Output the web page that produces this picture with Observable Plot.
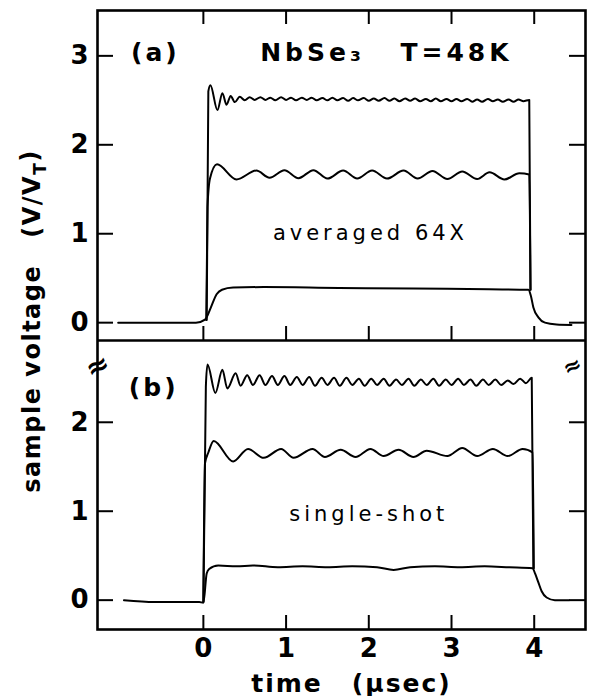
<!DOCTYPE html>
<html><head><meta charset="utf-8">
<script src="https://cdn.jsdelivr.net/npm/d3@7"></script>
<script src="https://cdn.jsdelivr.net/npm/@observablehq/plot@0.6"></script>
<style>body{margin:0;background:#fff}</style>
</head><body><div id="chart"></div>
<script>
// ---- tick values ----
const xTicks = [0, 1, 2, 3, 4];
const yTicksA = [0, 1, 2, 3];
const yTicksB = [0, 1, 2];

// ---- panel (a): averaged 64X  [time µs, V/VT] ----
const aTop = [[0.04,0.03],[0.06,2.60],[0.085,2.67],[0.17,2.39],[0.23,2.58],[0.28,2.45],[0.33,2.55],[0.38,2.48],[0.44,2.54],[0.50,2.50],
[0.56,2.535],[0.62,2.505],[0.69,2.535],[0.75,2.505],[0.81,2.53],[0.87,2.50],[0.94,2.535],[1.00,2.505],[1.06,2.53],[1.12,2.50],
[1.19,2.53],[1.25,2.505],[1.31,2.53],[1.37,2.50],[1.44,2.525],[1.50,2.50],[1.56,2.53],[1.62,2.50],[1.69,2.525],[1.75,2.495],
[1.81,2.525],[1.87,2.50],[1.94,2.525],[2.00,2.495],[2.06,2.52],[2.12,2.495],[2.19,2.525],[2.25,2.495],[2.31,2.52],[2.37,2.49],
[2.44,2.52],[2.50,2.495],[2.56,2.52],[2.62,2.49],[2.69,2.515],[2.75,2.49],[2.81,2.52],[2.87,2.49],[2.94,2.515],[3.00,2.49],
[3.06,2.515],[3.12,2.49],[3.19,2.515],[3.25,2.485],[3.31,2.51],[3.37,2.485],[3.44,2.515],[3.50,2.49],[3.56,2.51],[3.62,2.485],
[3.69,2.51],[3.75,2.485],[3.81,2.51],[3.87,2.49],[3.94,2.505],[3.955,0.37]];
const aMid = [[0.035,0.03],[0.05,1.30],[0.08,1.62],[0.165,1.78],[0.40,1.61],[0.64,1.71],[0.80,1.63],[0.98,1.715],[1.15,1.625],[1.33,1.715],
[1.50,1.62],[1.69,1.71],[1.86,1.62],[2.04,1.71],[2.22,1.62],[2.42,1.71],[2.59,1.62],[2.77,1.705],[2.95,1.615],[3.13,1.70],
[3.31,1.615],[3.46,1.69],[3.64,1.61],[3.82,1.68],[3.94,1.665],[3.955,0.37]];
const aBot = [[-1.03,0.0],[-0.5,0.0],[-0.09,0.0],[0.02,0.035],[0.09,0.17],[0.16,0.32],[0.225,0.37],[0.36,0.395],[0.73,0.40],[1.64,0.39],
[2.54,0.385],[3.45,0.375],[3.93,0.37],[3.96,0.30],[3.99,0.17],[4.05,0.06],[4.13,0.0],[4.27,-0.02],[4.45,-0.025]];

// ---- panel (b): single-shot ----
const bTop = [[0.0,-0.02],[0.03,2.40],[0.05,2.65],[0.145,2.33],[0.23,2.59],[0.29,2.38],[0.39,2.55],[0.45,2.41],
[0.53,2.53],[0.60,2.42],[0.68,2.53],[0.75,2.42],[0.83,2.52],[0.90,2.42],[0.98,2.52],[1.05,2.42],[1.13,2.51],[1.20,2.42],
[1.28,2.51],[1.35,2.41],[1.43,2.50],[1.50,2.42],[1.58,2.50],[1.65,2.41],[1.73,2.50],[1.80,2.42],[1.88,2.49],[1.95,2.41],
[2.03,2.49],[2.10,2.42],[2.18,2.49],[2.25,2.41],[2.33,2.48],[2.40,2.42],[2.48,2.49],[2.55,2.41],[2.63,2.48],[2.70,2.42],
[2.78,2.49],[2.85,2.41],[2.93,2.48],[3.00,2.42],[3.08,2.49],[3.15,2.42],[3.23,2.48],[3.30,2.41],[3.38,2.48],[3.45,2.42],
[3.53,2.48],[3.60,2.42],[3.68,2.47],[3.75,2.43],[3.83,2.49],[3.90,2.44],[3.97,2.50],[3.99,0.36]];
const bMid = [[0.0,-0.02],[0.02,1.54],[0.06,1.66],[0.125,1.79],[0.36,1.56],[0.54,1.70],[0.73,1.60],[0.94,1.70],[1.09,1.60],[1.32,1.70],
[1.47,1.61],[1.66,1.69],[1.84,1.61],[2.02,1.70],[2.18,1.62],[2.36,1.69],[2.54,1.61],[2.70,1.68],[2.95,1.62],[3.13,1.71],
[3.31,1.62],[3.50,1.70],[3.68,1.62],[3.86,1.70],[3.98,1.66],[3.995,0.36]];
const bBot = [[-0.96,0.0],[-0.59,-0.02],[-0.05,-0.02],[0.0,-0.03],[0.04,0.30],[0.07,0.35],[0.18,0.39],[0.40,0.38],[0.6,0.39],[0.9,0.37],
[1.2,0.38],[1.5,0.37],[1.8,0.38],[2.1,0.37],[2.3,0.34],[2.5,0.37],[2.8,0.38],[3.1,0.37],[3.4,0.38],[3.7,0.37],[3.98,0.36],
[4.01,0.30],[4.05,0.20],[4.09,0.10],[4.15,0.03],[4.25,0.0],[4.42,0.0]];

// ---- labels ----
const panelLabels = [{panel:"a", t:-0.58, v:3.03, text:"(a)"}, {panel:"b", t:-0.6, v:2.39, text:"(b)"}];
const titleParts = [{t:1.32, v:3.03, text:"NbSe₃"}, {t:3.06, v:3.03, text:"T=48K"}];
const notes = [{panel:"a", t:2.02, v:1.0, text:"averaged 64X"}, {panel:"b", t:2.0, v:0.97, text:"single-shot"}];
const xLabel = "time  (µsec)";
const yLabel = "sample voltage  (V/VT)";

// layout of the two stacked panels on one shared vertical scale
const OFFSET_A = 3.12;   // panel (a) zero sits this far above panel (b) zero
const BOUNDARY = 2.92;   // dividing line between the panels
const Y = (panel, v) => panel === "a" ? v + OFFSET_A : v;

const series = {aTop, aMid, aBot, bTop, bMid, bBot};
const rows = Object.entries(series).flatMap(([name, arr]) =>
  arr.map(([t, v]) => ({name, t, v: Y(name[0], v)})));

const yTickRows = [...yTicksA.map(v => ({v: Y("a", v), label: String(v)})),
                   ...yTicksB.map(v => ({v: Y("b", v), label: String(v)}))];

const FONT = "DejaVu Sans";
const chart = Plot.plot({
  width: 589, height: 696,
  marginLeft: 97, marginRight: 4, marginTop: 10, marginBottom: 67,
  style: {fontFamily: FONT, background: "#fff", color: "#000"},
  x: {domain: [-1.28, 4.62], axis: null},
  y: {domain: [-0.33, 6.63], axis: null},
  marks: [
    Plot.frame({stroke: "#000", strokeWidth: 2.6}),
    Plot.ruleY([BOUNDARY], {stroke: "#000", strokeWidth: 2.6}),
    // x ticks: bottom (up), top (down), boundary (up into panel a)
    Plot.tickX(xTicks, {x: d => d, insetTop: 605, stroke: "#000", strokeWidth: 2}),
    Plot.tickX(xTicks, {x: d => d, insetBottom: 605, stroke: "#000", strokeWidth: 2}),
    Plot.tickX(xTicks, {x: d => d, insetTop: 316, insetBottom: 289, stroke: "#000", strokeWidth: 2}),
    // y ticks left and right, inward
    Plot.tickY(yTickRows, {y: "v", insetRight: 472, stroke: "#000", strokeWidth: 2}),
    Plot.tickY(yTickRows, {y: "v", insetLeft: 472, stroke: "#000", strokeWidth: 2}),
    // tick labels
    Plot.text(yTickRows, {y: "v", text: "label", frameAnchor: "left", dx: -9, textAnchor: "end", lineAnchor: "middle", fontSize: 26, fontWeight: "bold"}),
    Plot.text(xTicks, {x: d => d, text: d => String(d), frameAnchor: "bottom", dy: 19, textAnchor: "middle", lineAnchor: "middle", fontSize: 26, fontWeight: "bold"}),
    // curves
    Plot.line(rows, {x: "t", y: "v", z: "name", stroke: "#000", strokeWidth: 2, curve: "monotone-x"}),
    // panel labels and annotations
    Plot.text(panelLabels, {x: "t", y: d => Y(d.panel, d.v), text: "text", fontSize: 25, fontWeight: "bold"}),
    Plot.text(titleParts, {x: "t", y: d => Y("a", d.v), text: "text", fontSize: 25, fontWeight: "bold"}),
    Plot.text(notes, {x: "t", y: d => Y(d.panel, d.v), text: "text", fontSize: 21}),
    // axis labels
    Plot.text([xLabel], {text: d => d, frameAnchor: "bottom", dy: 54, dx: 10, textAnchor: "middle", lineAnchor: "middle", fontSize: 25, fontWeight: "bold"}),
    Plot.text([yLabel], {text: d => d, frameAnchor: "left", dx: -65, dy: 1, textAnchor: "middle", lineAnchor: "middle", rotate: -90, fontSize: 24, fontWeight: "bold"}),
    // axis break marks
    Plot.text(["≈"], {text: d => d, frameAnchor: "left", y: () => Y("b", 2.63), textAnchor: "middle", lineAnchor: "middle", fontSize: 28, fontWeight: "bold", rotate: -25}),
    Plot.text(["≈"], {text: d => d, frameAnchor: "right", dx: -13, y: () => Y("b", 2.63), textAnchor: "middle", lineAnchor: "middle", fontSize: 22, fontWeight: "bold", rotate: -25})
  ]
});

// letter spacing, and subscript T in the y label
const spacing = {"(a)": 3, "(b)": 3, "NbSe₃": 4, "T=48K": 4, "averaged 64X": 4, "single-shot": 4};
chart.querySelectorAll("text").forEach(el => {
  const s = el.textContent;
  if (spacing[s] !== undefined) el.style.letterSpacing = spacing[s] + "px";
  if (s === yLabel) {
    el.style.letterSpacing = "1.5px";
    el.innerHTML = 'sample voltage\u2002\u2002(V/V<tspan dy="0.35em" font-size="17">T</tspan><tspan dy="-0.35em">)</tspan>';
  }
  if (s === xLabel) {
    el.style.letterSpacing = "2px";
    el.innerHTML = 'time\u2002\u2002(µsec)';
  }
});
document.getElementById("chart").appendChild(chart);
</script>
</body></html>
